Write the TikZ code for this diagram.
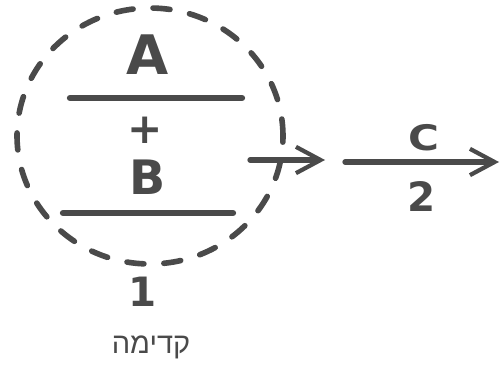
\documentclass[tikz,border=0pt]{standalone}
\usepackage{fontspec}
\setmainfont{DejaVu Sans}
\newfontfamily\hebfont[Script=Hebrew]{Liberation Sans}
\TeXXeTstate=1
\usetikzlibrary{arrows.meta,shapes.geometric}
\definecolor{ink}{HTML}{4A4A4A}
\tikzset{
  ink/.style={draw=ink, line width=3.2pt, line cap=round},
  lbl/.style={text=ink, font=\bfseries\fontsize{24}{26}\selectfont, inner sep=0pt},
  arr/.style={ink, line width=3pt, -{Straight Barb[length=14pt, width=15pt, line width=2.4pt]}},
}
\begin{document}
\begin{tikzpicture}[x=0.02cm, y=-0.02cm]
\useasboundingbox (0,0) rectangle (500,365);
\node[ink, ellipse, dash pattern=on 0.34cm off 0.40cm, minimum width=5.32cm, minimum height=5.12cm, inner sep=0pt] (circ) at (150,136) {};
\node[lbl, font=\bfseries\fontsize{31}{33}\selectfont] (A) at (148,55) {A};
\coordinate (l1a) at (70,98);
\coordinate (l1b) at (242,98);
\draw[ink, line width=3.6pt] (l1a) -- (l1b);
\node[lbl] (plus) at (145,130) {+};
\node[lbl, font=\bfseries\fontsize{27}{29}\selectfont] (B) at (148,177) {B};
\coordinate (l2a) at (63,213);
\coordinate (l2b) at (233,213);
\draw[ink, line width=3.6pt] (l2a) -- (l2b);
\node[lbl, font=\bfseries\fontsize{23}{25}\selectfont] (one) at (143,292) {1};
\node[text=ink, font=\hebfont\fontsize{16.5}{18}\selectfont, inner sep=0pt] (heb) at (151,347) {\beginR קדימה\endR};
\coordinate (a1s) at (250,160);
\coordinate (a1e) at (325,160);
\draw[arr] (a1s) -- (a1e);
\coordinate (a2s) at (345,162);
\coordinate (a2e) at (499,162);
\draw[arr] (a2s) -- (a2e);
\node[lbl, font=\bfseries\fontsize{20}{22}\selectfont, xscale=1.2] (C) at (424,138) {C};
\node[lbl, font=\bfseries\fontsize{23}{25}\selectfont] (two) at (422,197) {2};
\end{tikzpicture}
\end{document}
